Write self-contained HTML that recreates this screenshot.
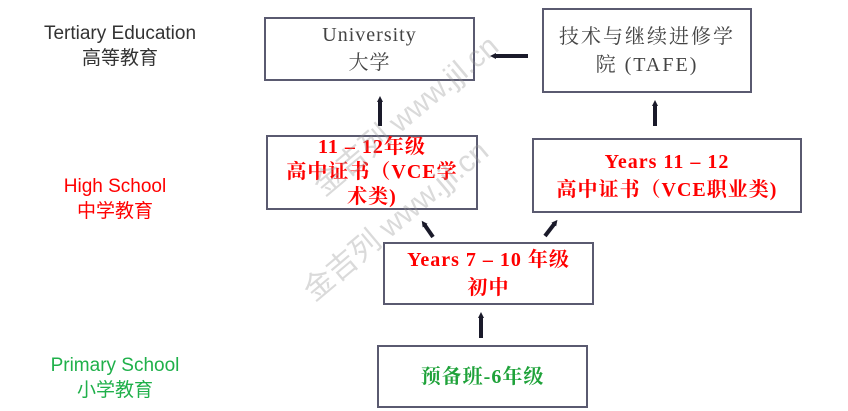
<!DOCTYPE html>
<html><head><meta charset="utf-8"><style>
body{margin:0;width:848px;height:411px;background:#fff;position:relative;overflow:hidden;font-family:"Liberation Serif","Noto Serif CJK SC",serif}
.b{position:absolute;box-sizing:border-box;border:2px solid #5a5a70;background:#fff;display:flex;flex-direction:column;justify-content:center;align-items:center;text-align:center;font-size:20px;line-height:28px;letter-spacing:1px}
.r{color:#f00;font-weight:bold}
.g{color:#1fa23a;font-weight:bold}
.k{color:#444}
.l{position:absolute;font-family:"Liberation Sans","Noto Sans CJK SC",sans-serif;font-size:19px;line-height:25px;text-align:center}
svg{position:absolute;left:0;top:0}
.wm{position:absolute;font-family:"Liberation Sans","Noto Sans CJK SC",sans-serif;font-size:30px;color:rgba(150,150,150,0.35);transform:rotate(-40deg);transform-origin:left bottom;white-space:nowrap}
</style></head><body>
<div class="l" style="left:28px;top:21px;width:184px;color:#333">Tertiary Education<br>高等教育</div>
<div class="l" style="left:38px;top:174px;width:154px;color:#f00">High School<br>中学教育</div>
<div class="l" style="left:26px;top:353px;width:178px;color:#1fb04a">Primary School<br>小学教育</div>

<div class="b k" style="left:264px;top:17px;width:211px;height:64px">University<br>大学</div>
<div class="b k" style="left:542px;top:8px;width:210px;height:85px;letter-spacing:2px">技术与继续进修学<br>院 (TAFE)</div>
<div class="b r" style="left:266px;top:135px;width:212px;height:75px;line-height:25px">11 – 12年级<br>高中证书（VCE学<br>术类)</div>
<div class="b r" style="left:532px;top:138px;width:270px;height:75px">Years 11 – 12<br>高中证书（VCE职业类)</div>
<div class="b r" style="left:383px;top:242px;width:211px;height:63px">Years 7 – 10 年级<br>初中</div>
<div class="b g" style="left:377px;top:345px;width:211px;height:63px">预备班-6年级</div>

<svg width="848" height="411">
<defs><marker id="a" markerUnits="userSpaceOnUse" markerWidth="8" markerHeight="8" refX="2" refY="4" orient="auto"><path d="M0,1 L6,4 L0,7z" fill="#1a1a2a"/></marker></defs>
<g stroke="#1a1a2a" stroke-width="4" marker-end="url(#a)">
<line x1="380" y1="126" x2="380" y2="100"/>
<line x1="528" y1="56" x2="494" y2="56"/>
<line x1="655" y1="126" x2="655" y2="104"/>
<line x1="433" y1="237" x2="424" y2="224"/>
<line x1="545" y1="236" x2="555" y2="223"/>
<line x1="481" y1="338" x2="481" y2="316"/>
</g>
</svg>
<div class="wm" style="left:330px;top:160px">金吉列 www.jjl.cn</div>
<div class="wm" style="left:320px;top:265px">金吉列 www.jjl.cn</div>
</body></html>
